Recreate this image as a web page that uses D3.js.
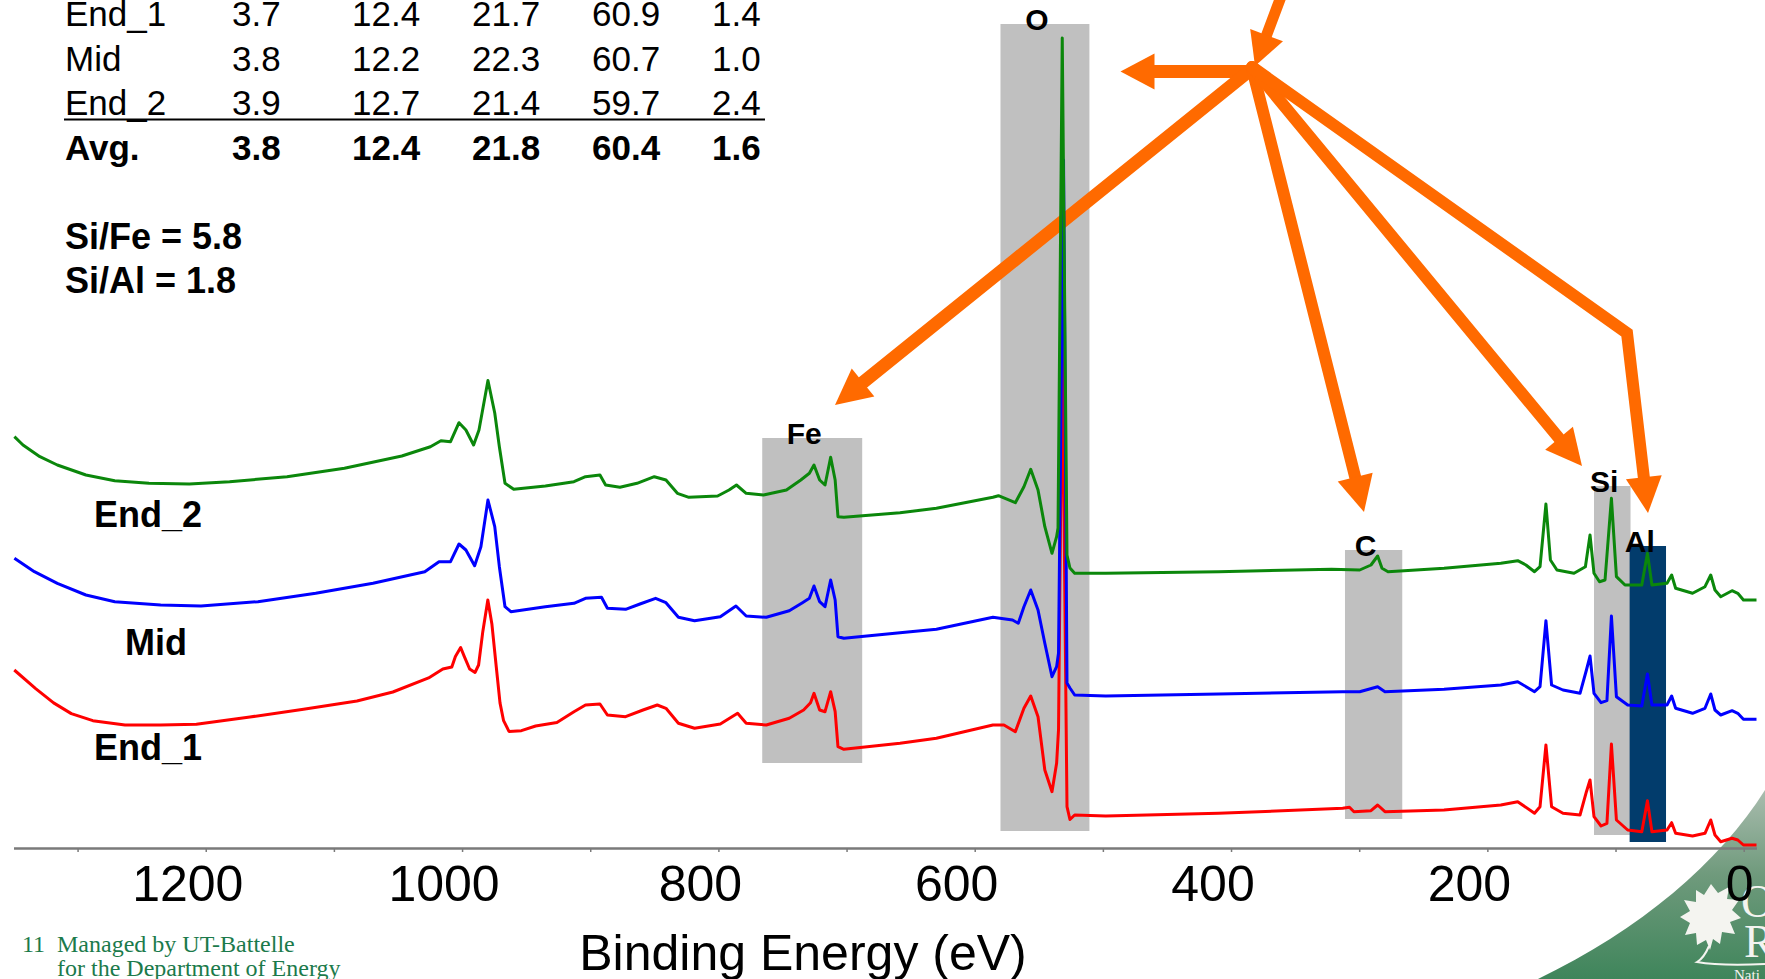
<!DOCTYPE html>
<html>
<head>
<meta charset="utf-8">
<script src="https://cdn.jsdelivr.net/npm/d3@7"></script>
<style>
  html, body { margin: 0; padding: 0; background: #ffffff; overflow: hidden; }
  svg { display: block; }
</style>
</head>
<body>
<svg id="chart" width="1765" height="979"></svg>
<script>
// ---------------- DATA ----------------
// Composition table (at.%) – columns of the original table (header cut off in the slide)
const tableRows = ["End_1", "Mid", "End_2"];
const tableValues = [
  [3.7, 12.4, 21.7, 60.9, 1.4],
  [3.8, 12.2, 22.3, 60.7, 1.0],
  [3.9, 12.7, 21.4, 59.7, 2.4]
];
const avgLabel = "Avg.";
const avgValues = [3.8, 12.4, 21.8, 60.4, 1.6];
const ratioLines = ["Si/Fe = 5.8", "Si/Al = 1.8"];

// X axis
const tickValuesMinor = [1300, 1200, 1100, 1000, 900, 800, 700, 600, 500, 400, 300, 200, 100, 0];
const tickLabels = [1200, 1000, 800, 600, 400, 200, 0];
const xTitle = "Binding Energy (eV)";

// Spectra: [binding energy (eV), intensity (arb. units, offset-stacked)]
const seriesNames = ["End_2", "Mid", "End_1"];
const end2Spectrum = [
  [1349.3,411.3],[1342.6,403],[1329.4,391.3],[1315.8,383],[1293.5,373],[1271.0,367.3],[1244.3,364.7],
  [1212.8,364],[1181.4,366.3],[1136.6,371.3],[1091.8,379.7],[1047.0,392],[1024.7,401.3],[1016.5,407.3],
  [1009.0,406.3],[1002.4,425.3],[997.0,418],[991.0,403],[986.8,418],[979.8,467.5],[974.5,435],
  [970.9,401.3],[966.5,364.7],[959.7,358.7],[935.0,362],[912.7,366.3],[903.7,371.3],[892.4,373],
  [888.0,363],[876.8,360.7],[863.5,364.7],[850.0,371.3],[840.9,368],[832.0,354.7],[823.0,350.7],
  [800.6,352],[791.7,358],[785.9,363],[778.3,354.7],[764.8,353],[746.9,358],[735.7,368],[729.0,374.7],
  [725.4,383],[721.0,368],[716.8,363],[712.4,390.7],[708.9,368],[706.7,331.3],[702.1,330.7],
  [658.3,335.3],[629.9,339.7],[585.8,350.7],[581.5,352.3],[568.3,345.3],[561.6,361.3],[556.3,378.7],
  [550.6,358],[545.3,321.3],[539.7,294.7],[536.1,311.3],[535.0,320],[531.7,810],[528.0,293],
  [525.7,280],[522.0,274.7],[497.8,274.7],[409.7,276.3],[321.6,278.7],[299.6,278],[290.8,283],
  [285.6,292],[282.2,279.7],[277.5,276.3],[233.8,279.7],[189.5,284.7],[176.3,287.3],[169.9,283],
  [163.2,276.3],[158.9,281.3],[154.3,344],[150.8,288],[145.7,278],[132.4,274.7],[123.5,281.3],
  [119.9,313],[116.8,274.7],[112.5,266.3],[108.2,268],[103.2,349.7],[99.3,271.3],[92.6,263],
  [79.5,263],[75.1,294.7],[71.6,263],[59.8,264.7],[56.2,273],[53.1,259.7],[39.9,254.7],[30.2,261.3],
  [25.7,273],[22.4,258],[17.9,251.3],[9.1,257.3],[4.6,254.7],[0.2,248],[-10,248]
];
const midSpectrum = [
  [1349.3,289.7],[1333.7,276.3],[1315.8,264.7],[1293.5,253],[1271.0,246.3],[1235.2,243],[1203.7,242],
  [1159.3,246.3],[1114.2,254.7],[1069.5,264.7],[1029.1,276.3],[1018.0,286.3],[1009.0,286.3],
  [1002.4,304],[997.0,298],[990.2,282.3],[985.3,301.3],[979.8,348],[974.5,321.3],[970.9,281.3],
  [966.5,241.3],[961.9,236.3],[935.0,241.3],[912.7,244.7],[903.7,249.7],[891.2,250.7],[886.6,239.7],
  [872.4,238.7],[861.2,244],[849.0,249.7],[840.9,245.3],[831.2,230.7],[818.6,227.3],[798.5,231.3],
  [786.3,242],[778.3,232],[762.6,230.7],[744.7,237.3],[734.4,245.3],[729.0,249.7],[725.4,262],
  [721.0,246.3],[716.8,241.3],[712.4,268],[708.9,248],[706.7,211.3],[702.1,209.7],[658.3,215.3],
  [629.9,218.7],[585.8,230.7],[570.5,228],[566.0,224.7],[561.6,241.3],[556.3,258],[550.6,238],
  [545.3,204.7],[539.7,171.3],[536.1,181.3],[534.6,195],[530.7,688],[528.0,165],[525.7,160],
  [522.0,153],[497.8,152],[409.7,154],[312.9,156.3],[299.6,156.3],[285.6,161.3],[279.9,156.3],
  [233.8,158.7],[189.5,163],[176.3,166.3],[163.2,156.3],[158.9,161.3],[154.3,227.3],[149.9,163],
  [141.0,158],[127.7,154.7],[122.7,178],[119.9,192],[116.8,154.7],[111.3,145.3],[106.7,147.3],
  [103.2,232],[99.3,151.3],[90.5,143],[79.5,142],[75.1,174],[71.6,143],[59.8,143],[56.2,152],
  [53.1,139.7],[39.9,134.7],[30.2,139.7],[25.7,154],[22.4,138],[17.9,133],[9.1,137.3],[4.6,134.7],
  [0.2,128.7],[-10,128.7]
];
const end1Spectrum = [
  [1349.4,178],[1332.7,159.4],[1318.7,145.1],[1304.9,134.4],[1288.1,127.3],[1263.0,123],[1235.2,123],
  [1207.3,123.7],[1165.5,131],[1123.7,138.7],[1082.0,147],[1054.0,156],[1026.1,170.1],[1015.0,179],
  [1008.0,181],[1005.2,191.6],[1001.1,200.5],[998.3,191.6],[994.1,179],[989.9,175.5],[987.1,183],
  [983.8,216.6],[979.9,248],[976.7,223.7],[973.3,181],[970.4,145.1],[967.6,127.3],[963.4,116.6],
  [953.7,117.3],[942.6,122],[926.0,125.5],[912.7,136.3],[903.7,143],[892.4,144],[886.6,133],
  [872.4,131.3],[858.8,138],[847.7,143],[840.9,139.7],[831.2,124.7],[818.6,119.7],[798.5,124],
  [785.0,134.7],[778.3,124.7],[762.6,123],[744.7,129.7],[733.5,138],[728.1,145.3],[725.4,154.7],
  [721.0,138],[716.8,136.3],[712.4,156.3],[708.9,136.3],[706.7,101.3],[702.1,98.7],[658.3,104.7],
  [629.9,109.7],[585.8,123],[577.2,123],[568.3,116.3],[561.6,139.7],[556.3,152],[550.6,131.3],
  [545.3,78],[539.7,56.3],[536.1,84.7],[534.6,118.5],[531.7,508],[528.0,41.4],[525.7,28.5],
  [522.0,33],[497.8,32],[409.7,34.7],[312.9,39.7],[307.6,40.7],[304.1,36.3],[290.8,37.3],[285.6,43],
  [279.9,36.3],[233.8,38],[189.5,43],[176.3,46.3],[163.2,34.7],[158.9,41.3],[154.3,103],[149.9,41.3],
  [141.0,34.7],[127.7,33],[122.7,56.3],[119.9,68],[116.8,31.3],[111.3,22],[106.7,24.7],[103.2,104],
  [99.3,28],[90.5,18],[79.5,16.3],[75.1,47.3],[71.6,16.3],[59.8,18],[56.2,25.3],[53.1,14.7],
  [39.9,12],[30.2,14.7],[25.7,28],[22.4,13],[17.9,6.3],[9.1,9.7],[4.6,8],[0.2,3],[-10,3]
];

// Element windows: label, eV range, intensity range
const bandLabels = ["Fe", "O", "C", "Si", "Al"];
const bandEV = [[765.8, 687.8], [579.9, 510.5], [311.1, 266.4], [116.8, 88.3], [89.0, 60.6]];
const bandIntensity = [[85, 410], [17, 824], [29, 298], [13, 362], [6, 302]];

// Footer
const footerNumber = "11";
const footerLines = ["Managed by UT-Battelle", "for the Department of Energy"];

// ---------------- DRAW ----------------
const W = 1765, H = 979;
const svg = d3.select("#chart");
svg.append("rect").attr("width", W).attr("height", H).attr("fill", "#ffffff");

const x = d3.scaleLinear().domain([1350, -10]).range([13.5, 1756.5]);
const y = d3.scaleLinear().domain([0, 824]).range([848, 24]);

const colors = { "End_2": "#0b870b", "Mid": "#0000ff", "End_1": "#ff0000" };
const spectra = { "End_2": end2Spectrum, "Mid": midSpectrum, "End_1": end1Spectrum };

// --- bottom-right logo corner (decorative) ---
const defs = svg.append("defs");
const grad = defs.append("linearGradient").attr("id", "logoGrad")
  .attr("x1", 0).attr("y1", 0).attr("x2", 0).attr("y2", 1);
grad.append("stop").attr("offset", "0%").attr("stop-color", "#a9bcae");
grad.append("stop").attr("offset", "45%").attr("stop-color", "#6f9a7c");
grad.append("stop").attr("offset", "100%").attr("stop-color", "#3f855b");
const logo = svg.append("g");
logo.append("path")
  .attr("d", "M1765,790 C1720,862 1640,930 1538,979 L1765,979 Z")
  .attr("fill", "url(#logoGrad)");
logo.append("path")
  .attr("d", "M1711,884 L1718,893 L1729,887 L1727,899 L1739,900 L1732,910 L1741,918 L1730,922 L1735,934 L1722,932 L1720,944 L1713,939 L1710,950 L1706,940 L1697,945 L1696,933 L1685,935 L1690,923 L1680,917 L1690,911 L1684,900 L1696,902 L1696,890 L1704,895 Z")
  .attr("fill", "#f4f4f0");
logo.append("path")
  .attr("d", "M1709,946 Q1704,958 1697,962 Q1720,966 1765,964")
  .attr("fill", "none").attr("stroke", "#f4f4f0").attr("stroke-width", 2);
logo.append("text").attr("x", 1741).attr("y", 917).attr("font-family", "Liberation Serif")
  .attr("font-size", 46).attr("fill", "#f4f4f0").text("O");
logo.append("text").attr("x", 1744).attr("y", 957).attr("font-family", "Liberation Serif")
  .attr("font-size", 46).attr("fill", "#f4f4f0").text("R");
logo.append("text").attr("x", 1734).attr("y", 980).attr("font-family", "Liberation Serif")
  .attr("font-size", 15).attr("fill", "#f4f4f0").text("Nati");

// --- element windows ---
const bands = bandLabels.map((l, i) => ({ label: l, ev: bandEV[i], inten: bandIntensity[i] }));
svg.append("g").selectAll("rect").data(bands).join("rect")
  .attr("x", d => x(d.ev[0]))
  .attr("width", d => x(d.ev[1]) - x(d.ev[0]))
  .attr("y", d => y(d.inten[1]))
  .attr("height", d => y(d.inten[0]) - y(d.inten[1]))
  .attr("fill", d => d.label === "Al" ? "#023c6c" : "#c0c0c0");

// --- axis ---
const axisG = svg.append("g").attr("transform", `translate(0,${y(0)})`);
axisG.call(d3.axisBottom(x).tickValues(tickValuesMinor).tickSize(4).tickSizeOuter(0).tickFormat(""));
axisG.select(".domain").attr("stroke", "#7a7a7a").attr("stroke-width", 2.5);
axisG.selectAll(".tick line").attr("stroke", "#7a7a7a").attr("stroke-width", 1.5);
svg.append("g").selectAll("text").data(tickLabels).join("text")
  .attr("x", d => x(d) + (d === 0 ? -4 : -18))
  .attr("y", 901)
  .attr("text-anchor", "middle")
  .attr("font-family", "Liberation Sans, Arial, sans-serif")
  .attr("font-size", 50)
  .attr("fill", "#000")
  .text(d => d);
svg.append("text").attr("x", 803).attr("y", 970).attr("text-anchor", "middle")
  .attr("font-family", "Liberation Sans, Arial, sans-serif").attr("font-size", 50)
  .attr("fill", "#000").text(xTitle);

// --- orange arrows ---
function arrow(g, pts, w, headLen, headW) {
  const n = pts.length, tip = pts[n - 1], prev = pts[n - 2];
  const dx = tip[0] - prev[0], dy = tip[1] - prev[1], L = Math.hypot(dx, dy);
  const ux = dx / L, uy = dy / L;
  const base = [tip[0] - ux * headLen, tip[1] - uy * headLen];
  const shaft = pts.slice(0, n - 1).concat([base]);
  g.append("path").attr("d", d3.line()(shaft)).attr("fill", "none")
    .attr("stroke", "#ff6a00").attr("stroke-width", w)
    .attr("stroke-linecap", "round").attr("stroke-linejoin", "miter");
  const px = -uy, py = ux;
  g.append("path").attr("d", d3.line()([
    tip, [base[0] + px * headW / 2, base[1] + py * headW / 2],
    [base[0] - px * headW / 2, base[1] - py * headW / 2]]) + "Z")
    .attr("fill", "#ff6a00");
}
const arrows = svg.append("g");
arrow(arrows, [[1285, -14], [1255, 66]], 11, 33, 35);
arrow(arrows, [[1254, 71.5], [1120.5, 71.5]], 13, 34, 36);
arrow(arrows, [[1253, 68], [835, 405]], 13, 36, 36);
arrow(arrows, [[1252, 68], [1364, 512]], 12, 36, 36);
arrow(arrows, [[1252, 67], [1582, 466]], 12, 36, 36);
arrow(arrows, [[1252, 67], [1627, 333], [1648, 513]], 12, 36, 36);

// --- spectra ---
const line = d3.line().x(d => x(d[0])).y(d => y(d[1]));
svg.append("g").selectAll("path").data(["End_1", "Mid", "End_2"]).join("path")
  .attr("d", d => line(spectra[d]))
  .attr("fill", "none")
  .attr("stroke", d => colors[d])
  .attr("stroke-width", 3)
  .attr("stroke-linejoin", "round");

// --- element window labels ---
svg.append("g").selectAll("text").data(bands).join("text")
  .attr("x", d => (x(d.ev[0]) + x(d.ev[1])) / 2 - 8)
  .attr("y", d => y(d.inten[1]) + 6)
  .attr("text-anchor", "middle")
  .attr("font-family", "Liberation Sans, Arial, sans-serif")
  .attr("font-weight", "bold").attr("font-size", 30).attr("fill", "#000")
  .text(d => d.label);

// --- series labels ---
const seriesLabelPos = { "End_2": [94, 527], "Mid": [125, 655], "End_1": [94, 760] };
svg.append("g").selectAll("text").data(seriesNames).join("text")
  .attr("x", d => seriesLabelPos[d][0]).attr("y", d => seriesLabelPos[d][1])
  .attr("font-family", "Liberation Sans, Arial, sans-serif")
  .attr("font-weight", "bold").attr("font-size", 36).attr("fill", "#000")
  .text(d => d);

// --- composition table ---
const tbl = svg.append("g").attr("font-family", "Liberation Sans, Arial, sans-serif")
  .attr("font-size", 35).attr("fill", "#000");
const colX = [232, 352, 472, 592, 712];
const rowY = [26, 70.7, 115];
tableRows.forEach((r, i) => {
  tbl.append("text").attr("x", 65).attr("y", rowY[i]).text(r);
  tableValues[i].forEach((v, j) => {
    tbl.append("text").attr("x", colX[j]).attr("y", rowY[i]).text(v.toFixed(1));
  });
});
tbl.append("line").attr("x1", 64).attr("x2", 765).attr("y1", 119.5).attr("y2", 119.5)
  .attr("stroke", "#000").attr("stroke-width", 2);
tbl.append("text").attr("x", 65).attr("y", 160).attr("font-weight", "bold").text(avgLabel);
avgValues.forEach((v, j) => {
  tbl.append("text").attr("x", colX[j]).attr("y", 160).attr("font-weight", "bold").text(v.toFixed(1));
});
ratioLines.forEach((t, i) => {
  tbl.append("text").attr("x", 65).attr("y", 249 + i * 44).attr("font-weight", "bold")
    .attr("font-size", 36).text(t);
});

// --- footer ---
const foot = svg.append("g").attr("font-family", "Liberation Serif, Times New Roman, serif")
  .attr("font-size", 24).attr("fill", "#1b7a4b");
foot.append("text").attr("x", 22).attr("y", 952).text(footerNumber);
footerLines.forEach((t, i) => {
  foot.append("text").attr("x", 57).attr("y", 952 + i * 24).text(t);
});
</script>
</body>
</html>
